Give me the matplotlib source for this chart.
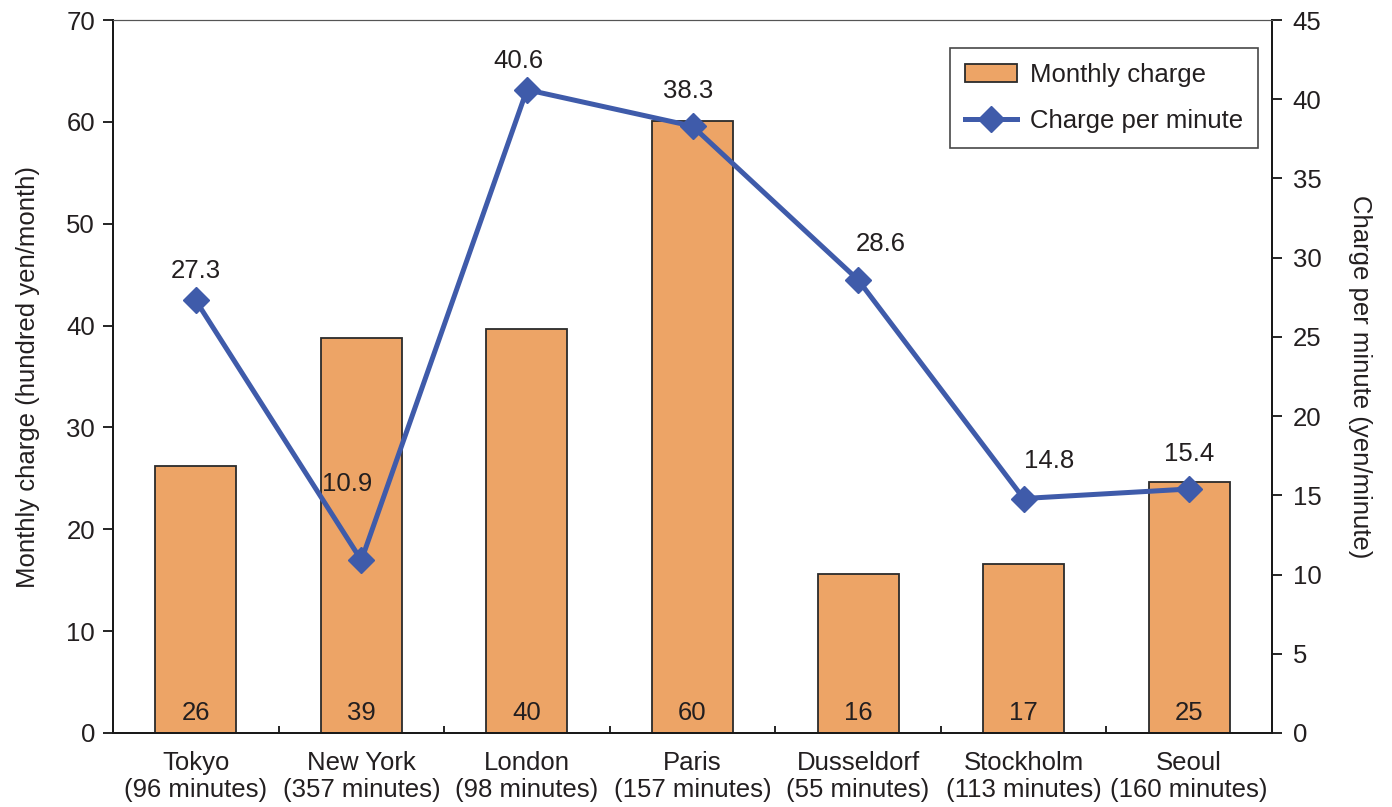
import matplotlib
matplotlib.use("Agg")
from matplotlib import pyplot as plt
from matplotlib import font_manager
import numpy as np

cities = ["Tokyo", "New York", "London", "Paris", "Dusseldorf", "Stockholm", "Seoul"]
minutes = [96, 357, 98, 157, 55, 113, 160]
monthly_charge = [26.2, 38.8, 39.7, 60.1, 15.6, 16.6, 24.6]
per_minute = [27.3, 10.9, 40.6, 38.3, 28.6, 14.8, 15.4]

# label offsets (points) for the per-minute values
label_dx = [0, -10, -6, -3, 16, 18, 0]
label_dy = [21, 55, 21, 25, 26, 27, 25]

names = {f.name for f in font_manager.fontManager.ttflist}
base_font = "Liberation Sans"
narrow_font = "Liberation Sans Narrow" if "Liberation Sans Narrow" in names else base_font
plt.rcParams["font.family"] = [base_font, "DejaVu Sans"]

bar_color = "#EDA466"
line_color = "#3F5BAA"
text_color = "#231F20"
fs = 18.5

fig, ax = plt.subplots(figsize=(13.92, 8.07), dpi=100)
fig.subplots_adjust(left=113 / 1392, right=1272 / 1392, top=1 - 20 / 807, bottom=1 - 733 / 807)

x = np.arange(len(cities))
ax.bar(x, monthly_charge, width=0.49, color=bar_color, edgecolor="#2B2B2B",
       linewidth=1.3, label="Monthly charge", zorder=2)
for xi, v in zip(x, monthly_charge):
    ax.text(xi, 2.0, f"{v:.0f}", ha="center", va="center", fontsize=fs, color=text_color, zorder=3)

ax.set_xlim(-0.5, len(cities) - 0.5)
ax.set_ylim(0, 70)
ax.set_yticks(np.arange(0, 71, 10))
ax.set_xticks(x)
ax.set_xticklabels([f"{c}\n({m} minutes)" for c, m in zip(cities, minutes)],
                   fontsize=fs, color=text_color, linespacing=1.15)
ax.set_xticks(np.arange(0.5, len(cities) - 0.5, 1), minor=True)
ax.tick_params(axis="x", which="major", length=0, pad=13)
ax.tick_params(axis="x", which="minor", direction="in", length=5, width=1.2)
ax.tick_params(axis="y", direction="out", length=7, width=1.2, labelsize=fs,
               labelcolor=text_color, pad=6)
ax.set_ylabel("Monthly charge (hundred yen/month)", fontsize=18.5, family=narrow_font,
              color=text_color, labelpad=19)

ax2 = ax.twinx()
ax2.plot(x, per_minute, color=line_color, linewidth=3.6, marker="D", markersize=13,
         label="Charge per minute", zorder=4)
for xi, v, dx, dy in zip(x, per_minute, label_dx, label_dy):
    ax2.annotate(f"{v:.1f}", (xi, v), xytext=(dx, dy), textcoords="offset points",
                 ha="center", va="center", fontsize=fs, color=text_color)
ax2.set_ylim(0, 45)
ax2.set_yticks(np.arange(0, 46, 5))
ax2.tick_params(axis="y", direction="out", length=7, width=1.2, labelsize=fs,
                labelcolor=text_color, pad=8)
ax2.set_ylabel("Charge per minute (yen/minute)", fontsize=18.5, family=narrow_font,
               color=text_color, rotation=270, labelpad=36)

for a in (ax, ax2):
    for side in ("left", "right", "bottom"):
        a.spines[side].set_linewidth(1.4)
        a.spines[side].set_color("#1A1A1A")
    a.spines["top"].set_linewidth(0.8)
    a.spines["top"].set_color("#555555")

h1, l1 = ax.get_legend_handles_labels()
h2, l2 = ax2.get_legend_handles_labels()
leg = ax2.legend(h1 + h2, l1 + l2, loc="upper right", bbox_to_anchor=(0.988, 0.961),
                 borderaxespad=0, fontsize=fs, frameon=True, fancybox=False,
                 edgecolor="#1A1A1A", handlelength=2.0, handleheight=0.7,
                 handletextpad=0.5, borderpad=0.6, labelspacing=0.85)
leg.get_frame().set_linewidth(1.2)
for t in leg.get_texts():
    t.set_color(text_color)

plt.savefig("out.png", dpi=100)
